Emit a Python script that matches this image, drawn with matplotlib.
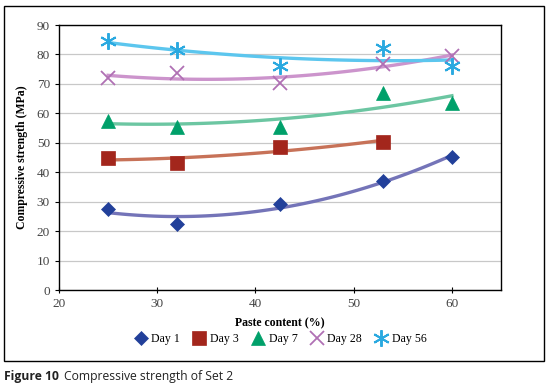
import numpy as np
import matplotlib
matplotlib.use('Agg')
import matplotlib.pyplot as plt
from matplotlib.patches import Rectangle

# paste content (%) and compressive strength (MPa) per curing age
paste = [25, 32, 42.5, 53, 60]
day1 = [27.5, 22.5, 29.2, 37.0, 45.3]
day3 = [45.0, 43.0, 48.6, 50.4]
day7 = [57.5, 55.5, 55.5, 67.0, 63.5]
day28 = [72.0, 73.8, 70.3, 76.8, 79.6]
day56 = [84.6, 81.4, 76.1, 82.3, 76.0]

series = [
    ('Day 1', day1, 'D', '#22409a', '#7474b8', 7, 0.5),
    ('Day 3', day3, 's', '#a3261c', '#c77258', 10, 0.5),
    ('Day 7', day7, '^', '#00a06a', '#6cc6a2', 9.5, 0.5),
    ('Day 28', day28, 'x', '#b070b4', '#cc94cc', 10, 1.3),
    ('Day 56', day56, (6, 2, 0), '#2aa9e0', '#5cc6ee', 12, 1.4),
]

plt.rcParams['font.family'] = ['Liberation Serif', 'DejaVu Serif']

fig = plt.figure(figsize=(5.48, 3.87), dpi=100)
ax = fig.add_axes([0.1077, 0.2506, 0.8066, 0.6848])

for name, vals, mk, mcol, lcol, ms, mew in series:
    x = np.array(paste[:len(vals)], dtype=float)
    y = np.array(vals)
    # 2nd order polynomial trendline
    coef = np.polyfit(x, y, 2)
    xs = np.linspace(x.min(), x.max(), 100)
    ax.plot(xs, np.polyval(coef, xs), color=lcol, lw=2.4, zorder=2)
    ax.plot(x, y, ls='none', marker=mk, color=mcol, ms=ms, mew=mew,
            label=name, zorder=3)

ax.set_xlim(20, 65)
ax.set_ylim(0, 90)
ax.set_xticks([20, 30, 40, 50, 60])
ax.set_yticks(range(0, 91, 10))
ax.yaxis.grid(True, color='#c8c8c8', lw=0.9)
ax.set_axisbelow(True)
for s in ax.spines.values():
    s.set_linewidth(1.0)
ax.tick_params(labelsize=9.5, colors='black', labelcolor='#444444', length=3)
ax.tick_params(axis='x', direction='inout', length=5)
ax.set_xlabel('Paste content (%)', fontsize=8.5, fontweight='bold', labelpad=5)
ax.set_ylabel('Compressive strength (MPa)', fontsize=8.5, fontweight='bold', labelpad=6)

leg = fig.legend(loc='center', bbox_to_anchor=(0.511, 0.123), ncol=5, frameon=False,
                 fontsize=8.6, handletextpad=0.3, columnspacing=1.0,
                 handlelength=1.2)

# outer frame around the chart
fig.patches.append(Rectangle((0.008, 0.068), 0.984, 0.917, transform=fig.transFigure,
                             fill=False, ec='black', lw=1.0))

fig.text(0.008, 0.028, 'Figure 10', fontsize=8.7, fontweight='bold',
         family=['Open Sans', 'DejaVu Sans'], color='#222222', va='center')
fig.text(0.117, 0.028, 'Compressive strength of Set 2', fontsize=8.7,
         family=['Open Sans', 'DejaVu Sans'], color='#222222', va='center')

fig.savefig('out.png', dpi=100)
